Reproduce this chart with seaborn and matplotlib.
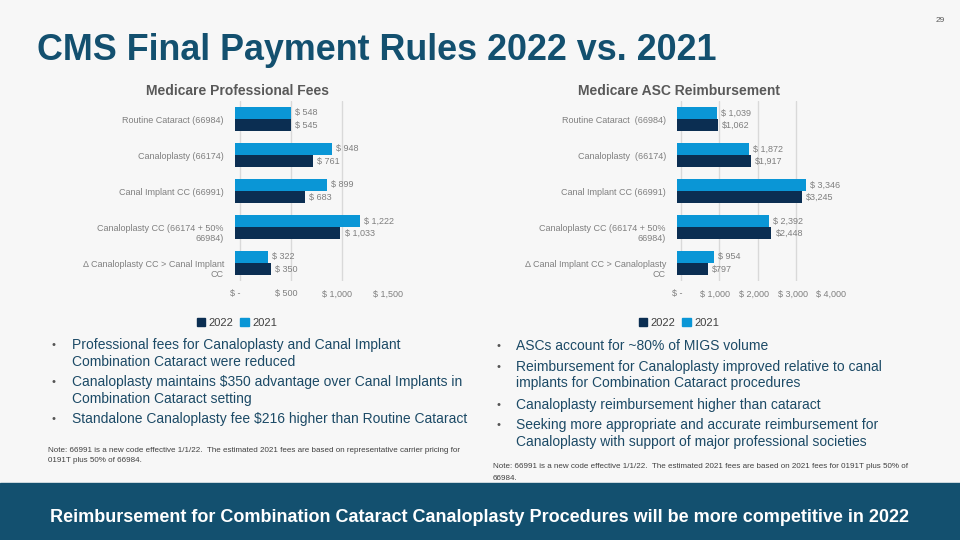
import pandas as pd
import numpy as np
import matplotlib.pyplot as plt
import seaborn as sns
from matplotlib.patches import Patch, Rectangle

# data
years = ["2021", "2022"]

prof_cats = ["Routine Cataract (66984)", "Canaloplasty (66174)", "Canal Implant CC (66991)",
             "Canaloplasty CC (66174 + 50%\n66984)", "\u0394 Canaloplasty CC > Canal Implant\nCC"]
prof_2021 = [548, 948, 899, 1222, 322]
prof_2022 = [545, 761, 683, 1033, 350]
prof_lbl_2021 = ["$ 548", "$ 948", "$ 899", "$ 1,222", "$ 322"]
prof_lbl_2022 = ["$ 545", "$ 761", "$ 683", "$ 1,033", "$ 350"]
prof_ticks = [0, 500, 1000, 1500]
prof_ticklabels = ["$ -", "$ 500", "$ 1,000", "$ 1,500"]

asc_cats = ["Routine Cataract  (66984)", "Canaloplasty  (66174)", "Canal Implant CC (66991)",
            "Canaloplasty CC (66174 + 50%\n66984)", "\u0394 Canal Implant CC > Canaloplasty\nCC"]
asc_2021 = [1039, 1872, 3346, 2392, 954]
asc_2022 = [1062, 1917, 3245, 2448, 797]
asc_lbl_2021 = ["$ 1,039", "$ 1,872", "$ 3,346", "$ 2,392", "$ 954"]
asc_lbl_2022 = ["$1,062", "$1,917", "$3,245", "$2,448", "$797"]
asc_ticks = [0, 1000, 2000, 3000, 4000]
asc_ticklabels = ["$ -", "$ 1,000", "$ 2,000", "$ 3,000", "$ 4,000"]

left_bullets = ["Professional fees for Canaloplasty and Canal Implant\nCombination Cataract were reduced",
                "Canaloplasty maintains $350 advantage over Canal Implants in\nCombination Cataract setting",
                "Standalone Canaloplasty fee $216 higher than Routine Cataract"]
right_bullets = ["ASCs account for ~80% of MIGS volume",
                 "Reimbursement for Canaloplasty improved relative to canal\nimplants for Combination Cataract procedures",
                 "Canaloplasty reimbursement higher than cataract",
                 "Seeking more appropriate and accurate reimbursement for\nCanaloplasty with support of major professional societies"]
left_note = ("Note: 66991 is a new code effective 1/1/22.  The estimated 2021 fees are based on representative carrier pricing for\n"
             "0191T plus 50% of 66984.")
right_note = ("Note: 66991 is a new code effective 1/1/22.  The estimated 2021 fees are based on 2021 fees for 0191T plus 50% of\n"
              "66984.")

C21 = "#0a96d6"
C22 = "#0b2e52"
BG = "#f7f7f7"
TEAL = "#13506f"
GRAY = "#7f7f7f"
TXT = "#1c4a66"

sns.set_theme(style="white")
plt.rcParams['font.family'] = ['Liberation Sans', 'DejaVu Sans']

fig = plt.figure(figsize=(9.6, 5.4), dpi=100, facecolor=BG)


def bar_chart(rect, cats, v21, v22, l21, l22, ticks, ticklabels, title, title_x):
    ax = fig.add_axes(rect)
    ax.set_facecolor(BG)
    df = pd.DataFrame({"cat": cats * 2, "val": v21 + v22,
                       "year": [years[0]] * len(cats) + [years[1]] * len(cats)})
    sns.barplot(data=df, x="val", y="cat", hue="year", hue_order=years,
                palette=[C21, C22], width=0.68, orient="h", ax=ax, legend=False,
                saturation=1, edgecolor="none")
    ax.set_xlim(ticks[0], ticks[-1])
    ax.set_ylim(4.5, -0.5)
    for t in ticks:
        ax.axvline(t + (ticks[1] - ticks[0]) * 0.1, color="#d9d9d9", lw=1, zorder=0)
    ax.set_xticks(ticks)
    ax.set_xticklabels(ticklabels, fontsize=6.5, color=GRAY)
    ax.tick_params(axis="x", length=0, pad=6)
    ax.tick_params(axis="y", length=0, pad=8)
    # multi-line labels: first line sits on the category centre
    ax.set_yticks(range(len(cats)))
    ax.set_yticklabels(["\n" + c if "\n" in c else c for c in cats], fontsize=6.5,
                       color=GRAY, linespacing=1.15)
    ax.set_xlabel("")
    ax.set_ylabel("")
    sns.despine(ax=ax, left=True, bottom=True)
    ax.bar_label(ax.containers[0], labels=l21, padding=3, fontsize=6.5, color=GRAY)
    ax.bar_label(ax.containers[1], labels=l22, padding=3, fontsize=6.5, color=GRAY)
    fig.text(title_x, 1 - 91 / 540, title, ha="center", va="center",
             fontsize=10, fontweight="bold", color="#595959")
    handles = [Patch(color=C22, label=years[1]), Patch(color=C21, label=years[0])]
    fig.legend(handles=handles, loc="center", bbox_to_anchor=(title_x, 1 - 323 / 540), ncol=2,
               frameon=False, fontsize=8, handlelength=0.8, handleheight=0.8,
               handletextpad=0.3, columnspacing=0.6, labelcolor="#404040")
    return ax


bar_chart([235 / 960, 1 - 281 / 540, 153 / 960, 180 / 540], prof_cats, prof_2021, prof_2022,
          prof_lbl_2021, prof_lbl_2022, prof_ticks, prof_ticklabels,
          "Medicare Professional Fees", 237 / 960)
bar_chart([677 / 960, 1 - 281 / 540, 154 / 960, 180 / 540], asc_cats, asc_2021, asc_2022,
          asc_lbl_2021, asc_lbl_2022, asc_ticks, asc_ticklabels,
          "Medicare ASC Reimbursement", 679 / 960)

# title and page number
fig.text(37 / 960, 1 - 50 / 540, "CMS Final Payment Rules 2022 vs. 2021", ha="left", va="center",
         fontsize=25.8, fontweight="bold", color=TEAL)
fig.text(945 / 960, 1 - 20 / 540, "29", ha="right", va="center", fontsize=6, color="#595959")


# bullets, placed line by line
def bullets(items, x_dot, x_txt, y0, step, gap):
    y = y0
    for it in items:
        fig.text(x_dot / 960, 1 - y / 540, "\u2022", ha="left", va="center", fontsize=8, color="#555555")
        for line in it.split("\n"):
            fig.text(x_txt / 960, 1 - y / 540, line, ha="left", va="center", fontsize=10, color=TXT)
            y += step
        y += gap - step


def note(text, x, y0, step):
    for i, line in enumerate(text.split("\n")):
        fig.text(x / 960, 1 - (y0 + i * step) / 540, line, ha="left", va="center",
                 fontsize=5.75, color="#404040")


bullets(left_bullets, 51, 72, 345, 17, 20)
bullets(right_bullets, 496, 516, 346, 16.5, 21)
note(left_note, 48, 450, 11)
note(right_note, 493, 467, 11)

# banner
fig.add_artist(Rectangle((0, 0), 1, 1 - 483 / 540, transform=fig.transFigure,
                         color=TEAL, zorder=0))
fig.text(0.5, 1 - 517 / 540, "Reimbursement for Combination Cataract Canaloplasty Procedures will be more competitive in 2022",
         ha="center", va="center", fontsize=13, fontweight="bold", color="white")

fig.savefig("out.png", dpi=100, facecolor=BG)
